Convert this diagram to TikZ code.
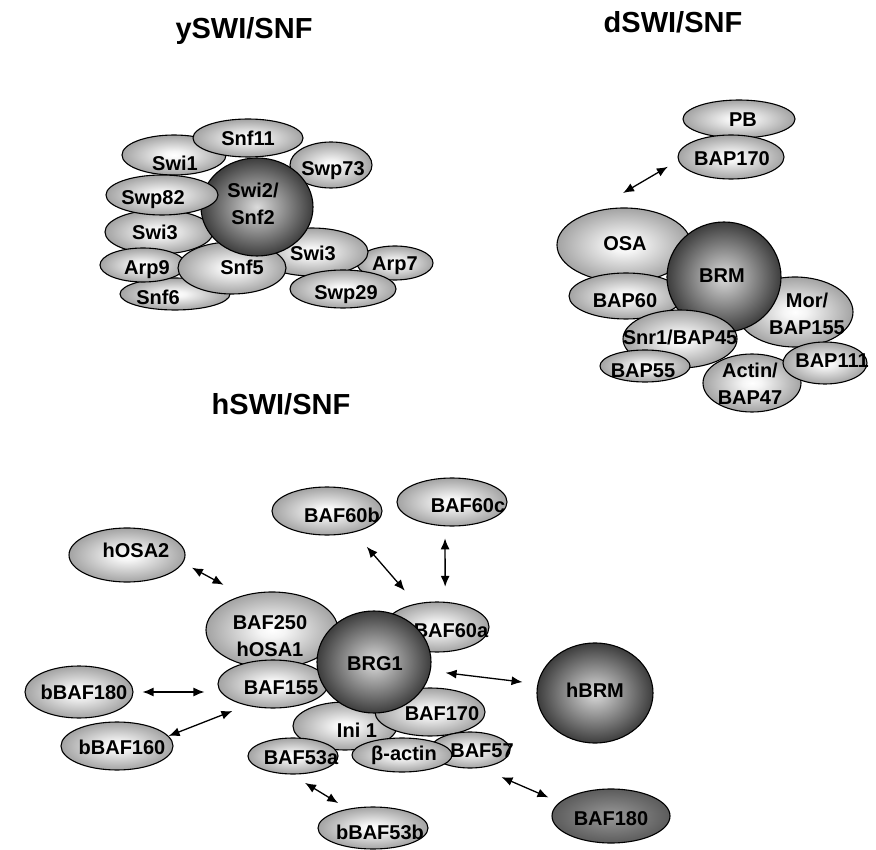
\documentclass[tikz,border=0pt]{standalone}
\usepackage{fontspec}
\setmainfont{Liberation Sans}
\usetikzlibrary{shapes.geometric,arrows.meta}

\pgfdeclareradialshading{subshade}{\pgfpoint{0bp}{0bp}}{color(0bp)=(white); color(5bp)=(black!4); color(25bp)=(black!36); color(50bp)=(black!36)}
\pgfdeclareradialshading{coreshade}{\pgfpoint{0bp}{0bp}}{color(0bp)=(black!14); color(25bp)=(black!76); color(50bp)=(black!76)}
\pgfdeclareradialshading{darkshade}{\pgfpoint{0bp}{0bp}}{color(0bp)=(black!40); color(25bp)=(black!64); color(50bp)=(black!64)}

\newcommand{\lblfont}{\fontsize{20}{27}\selectfont\bfseries}
\newcommand{\headfont}{\fontsize{29}{35}\selectfont\bfseries}
% text of an ellipse, moved by (#1,#2) from its centre
\newcommand{\lbl}[3]{\makebox[0pt]{\hspace*{#1pt}\hspace*{#1pt}\raisebox{\dimexpr-#2pt-6.8pt\relax}[0pt][0pt]{\begin{tabular}{@{}c@{}}#3\end{tabular}}}}

\tikzset{
  subunit/.style={ellipse, draw, line width=1.1pt, inner sep=0pt, shading=subshade, font=\lblfont},
  coreunit/.style={subunit, shading=coreshade},
  darkunit/.style={subunit, shading=darkshade},
  radii/.style 2 args={minimum width=2*#1pt, minimum height=2*#2pt},
  heading/.style={font=\headfont},
  link/.style={<->, >={Latex[length=11pt,width=9pt]}, line width=1.3pt}
}

\begin{document}
\begin{tikzpicture}[x=1pt,y=-1pt]
\useasboundingbox (0,0) rectangle (876,850);

\node[heading] (ytitle) at (244,31) {ySWI/SNF};
\node[heading] (dtitle) at (673,22) {dSWI/SNF};
\node[heading] (htitle) at (281,404) {hSWI/SNF};

% yeast
\node[subunit, radii={52}{20}] (Swi1) at (174,155) {\lbl{1}{8}{Swi1}};
\node[subunit, radii={41}{23}] (Swp73) at (331,165) {\lbl{2}{3}{Swp73}};
\node[subunit, radii={55}{19}] (Snf11) at (248,138) {\lbl{0}{0}{Snf11}};
\node[subunit, radii={54}{22}] (Swi3a) at (159,232) {\lbl{-4}{0}{Swi3}};
\node[subunit, radii={55}{16}] (Snf6) at (175,294) {\lbl{-17}{3}{Snf6}};
\node[subunit, radii={43}{17}] (Arp9) at (143,265) {\lbl{4}{2}{Arp9}};
\node[subunit, radii={38}{17}] (Arp7) at (395,263) {\lbl{0}{0}{Arp7}};
\node[subunit, radii={56}{24}] (Swi3b) at (312,252) {\lbl{1}{1}{Swi3}};
\node[subunit, radii={53}{19}] (Swp29) at (343,289) {\lbl{3}{3}{Swp29}};
\node[subunit, radii={54}{26}] (Snf5) at (232,268) {\lbl{10}{-1}{Snf5}};
\node[coreunit, radii={56}{49}] (Swi2) at (257,207) {\lbl{-4}{-3}{Swi2/\\Snf2}};
\node[subunit, radii={56}{20}] (Swp82) at (162,195) {\lbl{-9}{2}{Swp82}};

% drosophila
\node[subunit, radii={56}{19}] (PB) at (739,119) {\lbl{4}{0}{PB}};
\node[subunit, radii={53}{22}] (BAP170) at (731,157) {\lbl{1}{1}{BAP170}};
\node[subunit, radii={67}{37}] (OSA) at (624,245) {\lbl{1}{-2}{OSA}};
\node[subunit, radii={57}{23}] (BAP60) at (626,296) {\lbl{-1}{4}{BAP60}};
\node[subunit, radii={58}{35}] (Mor) at (795,312) {\lbl{12}{2}{Mor/\\BAP155}};
\node[coreunit, radii={57}{55}] (BRM) at (724,277) {\lbl{-2}{-2}{BRM}};
\node[subunit, radii={57}{29}] (Snr1) at (680,339) {\lbl{0}{-2}{Snr1/BAP45}};
\node[subunit, radii={45}{16}] (BAP55) at (645,366) {\lbl{-2}{4}{BAP55}};
\node[subunit, radii={49}{29}] (Actin) at (752,383) {\lbl{-2}{1}{Actin/\\BAP47}};
\node[subunit, radii={42}{21}] (BAP111) at (825,363) {\lbl{7}{-3}{BAP111}};

% human
\node[subunit, radii={58}{27}] (hOSA2) at (127,555) {\lbl{9}{-5}{hOSA2}};
\node[subunit, radii={55}{24}] (BAF60b) at (327,511) {\lbl{15}{4}{BAF60b}};
\node[subunit, radii={55}{24}] (BAF60c) at (452,502) {\lbl{16}{3}{BAF60c}};
\node[subunit, radii={54}{26}] (bBAF180) at (79,692) {\lbl{5}{0}{bBAF180}};
\node[subunit, radii={56}{24}] (bBAF160) at (117,746) {\lbl{5}{1}{bBAF160}};
\node[subunit, radii={66}{38}] (BAF250) at (272,630) {\lbl{-2}{6}{BAF250\\hOSA1}};
\node[subunit, radii={55}{24}] (BAF155) at (273,684) {\lbl{8}{3}{BAF155}};
\node[subunit, radii={52}{25}] (BAF60a) at (437,627) {\lbl{14}{3}{BAF60a}};
\node[subunit, radii={52}{24}] (Ini1) at (345,726) {\lbl{12}{4}{Ini 1}};
\node[subunit, radii={55}{24}] (BAF170) at (430,712) {\lbl{12}{1}{BAF170}};
\node[coreunit, radii={57}{51}] (BRG1) at (374,662) {\lbl{1}{1}{BRG1}};
\node[subunit, radii={40}{18}] (BAF57) at (470,750) {\lbl{12}{0}{BAF57}};
\node[subunit, radii={45}{18}] (BAF53a) at (293,756) {\lbl{8}{1}{BAF53a}};
\node[subunit, radii={50}{17}] (bactin) at (402,755) {\lbl{2}{-2}{β-actin}};
\node[coreunit, radii={58}{50}] (hBRM) at (595,693) {\lbl{0}{-3}{hBRM}};
\node[darkunit, radii={59}{27}] (BAF180) at (611,816) {\lbl{0}{2}{BAF180}};
\node[subunit, radii={55}{21}] (bBAF53b) at (373,828) {\lbl{7}{4}{bBAF53b}};

% exchangeable subunits
\draw[link, shorten <=39pt, shorten >=12pt] (OSA.137) -- (BAP170.184);
\draw[link, shorten <=10pt, shorten >=22pt] (hOSA2.-8) -- (BAF250.130);
\draw[link, shorten <=9pt, shorten >=13pt] (bBAF180.east) -- (bBAF180.east -| BAF155.west);
\draw[link, shorten >=15pt] (bBAF160.11) -- (BAF155.219);
\draw[link, shorten <=19pt, shorten >=17pt] (BAF60b.-38) -- (BAF60a.132);
\draw[link, shorten <=12pt, shorten >=15pt] (BAF60c.-106) -- (BAF60a.72);
\draw[link, shorten <=15pt, shorten >=15pt] (BRG1.-9) -- (hBRM.171);
\draw[link, shorten <=23pt, shorten >=12pt] (BAF57.-60) -- (BAF180.165);
\draw[link, shorten <=16pt, shorten >=11pt] (BAF53a.-95) -- (bBAF53b.143);
\end{tikzpicture}
\end{document}
